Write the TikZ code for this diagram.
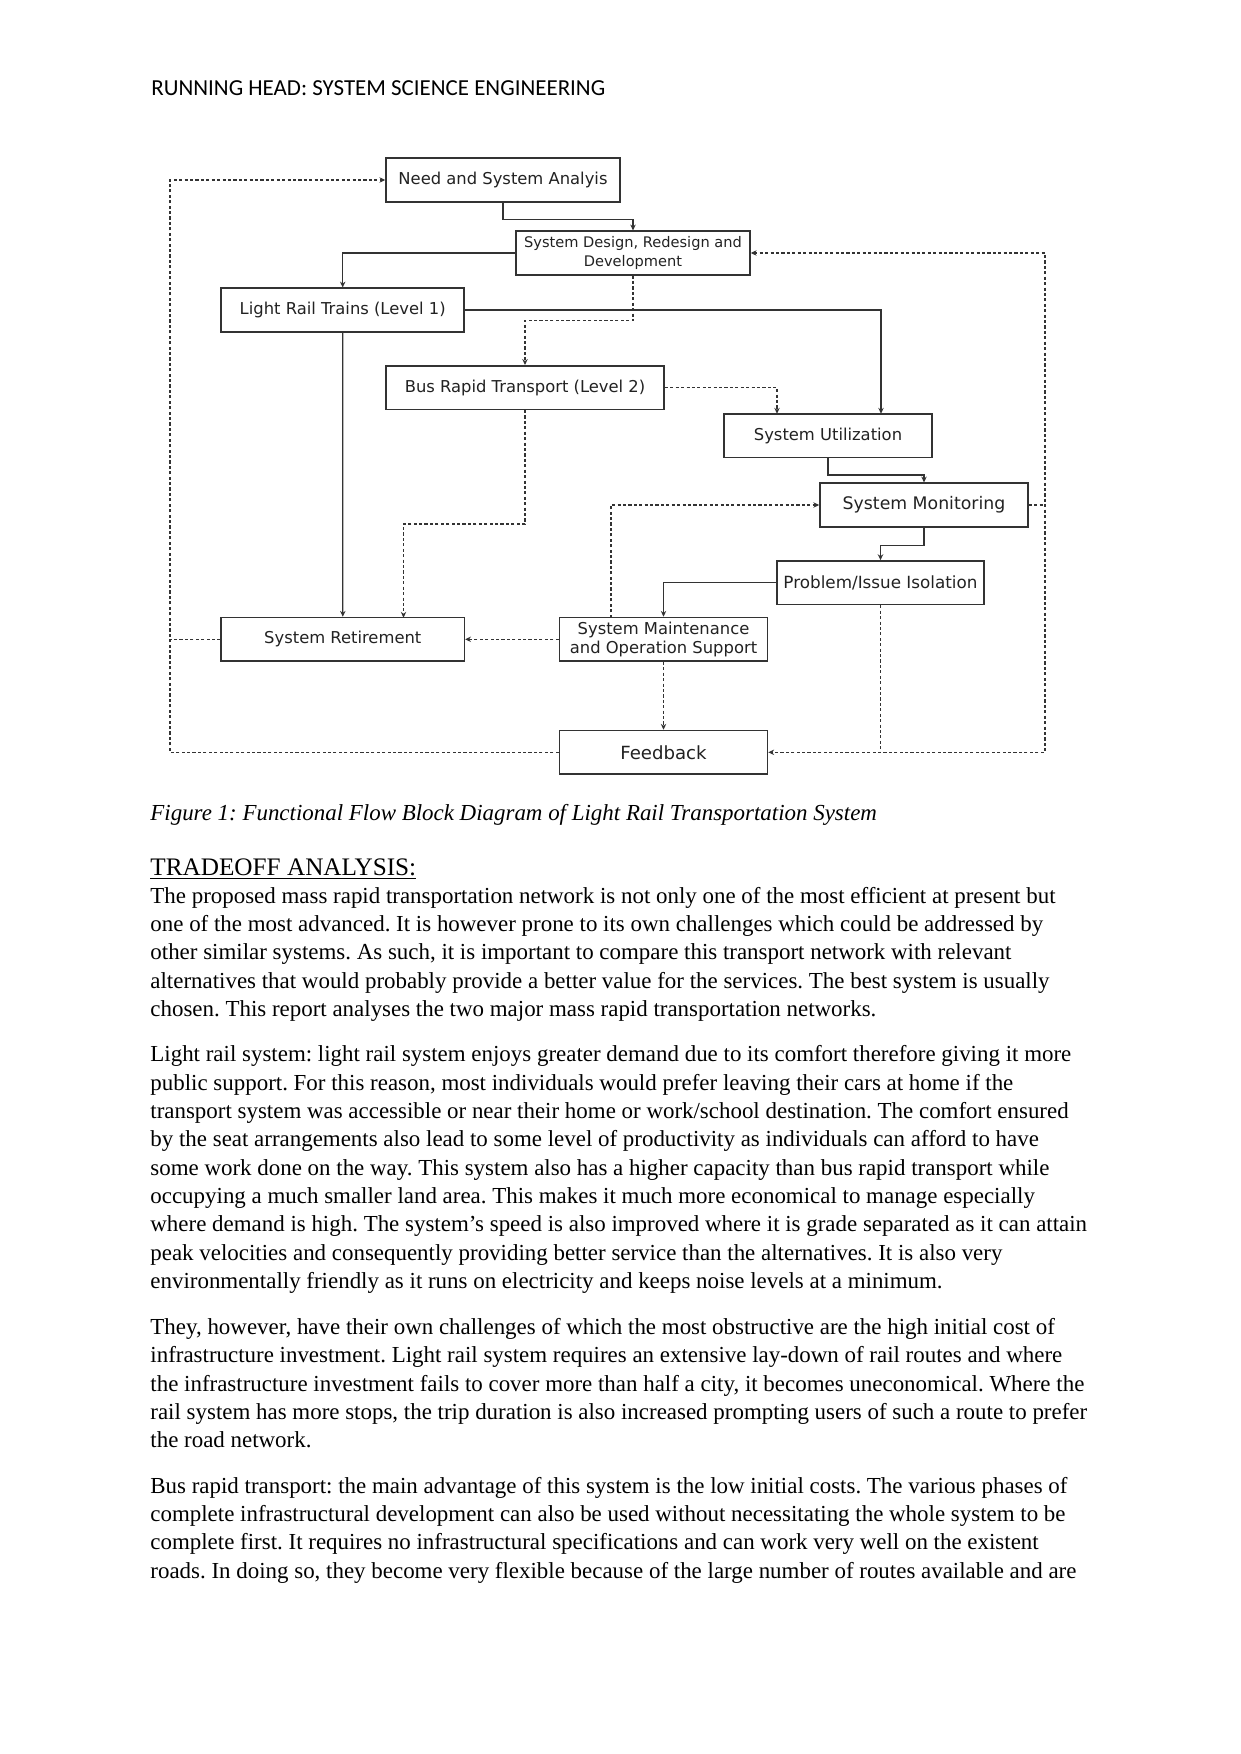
\documentclass[tikz,border=0pt]{standalone}
\usepackage{fontspec}
\setmainfont{Liberation Serif}
\newfontfamily\diagfont{DejaVu Sans}
\newfontfamily\headfont{Carlito}
\usetikzlibrary{arrows.meta}
\definecolor{linegray}{HTML}{333333}
\definecolor{boxtext}{HTML}{222222}
\frenchspacing

\begin{document}
\begin{tikzpicture}[x=0.4797pt,y=-0.4797pt,
  >={Stealth[length=2.8pt,width=2.6pt]},
  block/.style={draw=linegray, line width=0.75pt, inner sep=0pt, align=center,
    minimum height=20.9pt, text=boxtext, font=\diagfont\fontsize{7.85}{9}\selectfont},
  flow/.style={draw=linegray, line width=0.6pt, ->},
  dashline/.style={draw=linegray, line width=0.55pt, dash pattern=on 1.5pt off 1.1pt},
  flowdash/.style={dashline, ->},
  bodyline/.style={anchor=base west, inner sep=0pt, font=\fontsize{11}{13.6}\selectfont}]
  \fill[white] (0,0) rectangle (1241,1754);
  \useasboundingbox (0,0) rectangle (1241,1754);

  % running head
  \node[anchor=base west, inner sep=0pt, font=\headfont\fontsize{11}{13}\selectfont] (head) at (151,95.7)
    {RUNNING HEAD: SYSTEM SCIENCE ENGINEERING};

  % blocks
  \node[block, minimum width=112.2pt] (need) at (503,180) {Need and System Analyis};
  \node[block, minimum width=112.2pt, font=\diagfont\fontsize{7}{8.8}\selectfont] (design) at (633,253)
    {System Design, Redesign and\\Development};
  \node[block, minimum width=116.6pt] (lrt) at (342.7,310) {Light Rail Trains (Level 1)};
  \node[block, minimum width=133.4pt] (brt) at (525,387.5) {Bus Rapid Transport (Level 2)};
  \node[block, minimum width=99.8pt] (util) at (828,435.5) {System Utilization};
  \node[block, minimum width=99.8pt, font=\diagfont\fontsize{8.3}{10}\selectfont] (monitor) at (924,505)
    {System Monitoring};
  \node[block, minimum width=99.4pt, font=\diagfont\fontsize{8.05}{10}\selectfont] (problem) at (880.5,582.7)
    {Problem/Issue Isolation};
  \node[block, minimum width=116.6pt] (retire) at (342.8,639.3) {System Retirement};
  \node[block, minimum width=99.8pt] (maint) at (663.5,639.3)
    {System Maintenance\\and Operation Support};
  \node[block, minimum width=99.8pt, font=\diagfont\fontsize{8.7}{10}\selectfont] (feedback) at (663.5,752.3)
    {Feedback};

  % tap points on the boxes and the two return rails
  \coordinate (utilL) at (777,413.7);
  \coordinate (utilR) at (881,413.7);
  \coordinate (retireR) at (403.5,617.7);
  \coordinate (mtap) at (611,617.7);
  \coordinate (ltop) at (170,180);
  \coordinate (rbot) at (1045,752.3);

  % solid flow
  \draw[flow] (need.south) -- ++(0,17) -| (design.north);
  \draw[flow] (design.west) -| (lrt.north);
  \draw[flow] (lrt.east) -| (utilR);
  \draw[flow] (lrt.south) -- (retire.north);
  \draw[flow] (util.south) -- ++(0,17) -| (monitor.north);
  \draw[flow] (monitor.south) -- ++(0,18) -| (problem.north);
  \draw[flow] (problem.west) -| (maint.north);

  % dashed flow
  \draw[flowdash] (design.south) -- ++(0,45) -| (brt.north);
  \draw[flowdash] (brt.east) -| (utilL);
  \draw[flowdash] (brt.south) -- ++(0,114) -| (retireR);
  \draw[flowdash] (maint.west) -- (retire.east);
  \draw[flowdash] (maint.south) -- (feedback.north);
  \draw[flowdash] (mtap) |- (monitor.west);
  \draw[dashline, <->] (design.east) -| (rbot) -- (feedback.east);
  \draw[dashline] (monitor.east) -- (monitor.east -| rbot);
  \draw[dashline] (problem.south) -- (problem.south |- feedback.east);
  \draw[flowdash] (feedback.west) -| (ltop) -- (need.west);
  \draw[dashline] (retire.west) -- (retire.west -| ltop);

  % caption and heading
  \node[anchor=base west, inner sep=0pt, font=\itshape\fontsize{11}{13.6}\selectfont] (caption) at (150,820.5)
    {Figure 1: Functional Flow Block Diagram of Light Rail Transportation System};
  \node[anchor=base west, inner sep=0pt, font=\fontsize{12.1}{15}\selectfont] (tradeoff) at (150,875)
    {\underline{TRADEOFF ANALYSIS:}};

  % body text
  \foreach \txt [count=\i from 0] in {
    {The proposed mass rapid transportation network is not only one of the most efficient at present but},
    {one of the most advanced. It is however prone to its own challenges which could be addressed by},
    {other similar systems. As such, it is important to compare this transport network with relevant},
    {alternatives that would probably provide a better value for the services. The best system is usually},
    {chosen. This report analyses the two major mass rapid transportation networks.}}
    \node[bodyline] (pa\i) at (150,903.3+28.33*\i) {\txt};
  \foreach \txt [count=\i from 0] in {
    {Light rail system: light rail system enjoys greater demand due to its comfort therefore giving it more},
    {public support. For this reason, most individuals would prefer leaving their cars at home if the},
    {transport system was accessible or near their home or work/school destination. The comfort ensured},
    {by the seat arrangements also lead to some level of productivity as individuals can afford to have},
    {some work done on the way. This system also has a higher capacity than bus rapid transport while},
    {occupying a much smaller land area. This makes it much more economical to manage especially},
    {where demand is high. The system’s speed is also improved where it is grade separated as it can attain},
    {peak velocities and consequently providing better service than the alternatives. It is also very},
    {environmentally friendly as it runs on electricity and keeps noise levels at a minimum.}}
    \node[bodyline] (pb\i) at (150,1061.7+28.33*\i) {\txt};
  \foreach \txt [count=\i from 0] in {
    {They, however, have their own challenges of which the most obstructive are the high initial cost of},
    {infrastructure investment. Light rail system requires an extensive lay-down of rail routes and where},
    {the infrastructure investment fails to cover more than half a city, it becomes uneconomical. Where the},
    {rail system has more stops, the trip duration is also increased prompting users of such a route to prefer},
    {the road network.}}
    \node[bodyline] (pc\i) at (150,1334.5+28.33*\i) {\txt};
  \foreach \txt [count=\i from 0] in {
    {Bus rapid transport: the main advantage of this system is the low initial costs. The various phases of},
    {complete infrastructural development can also be used without necessitating the whole system to be},
    {complete first. It requires no infrastructural specifications and can work very well on the existent},
    {roads. In doing so, they become very flexible because of the large number of routes available and are}}
    \node[bodyline] (pd\i) at (150,1493.3+28.33*\i) {\txt};
\end{tikzpicture}
\end{document}
